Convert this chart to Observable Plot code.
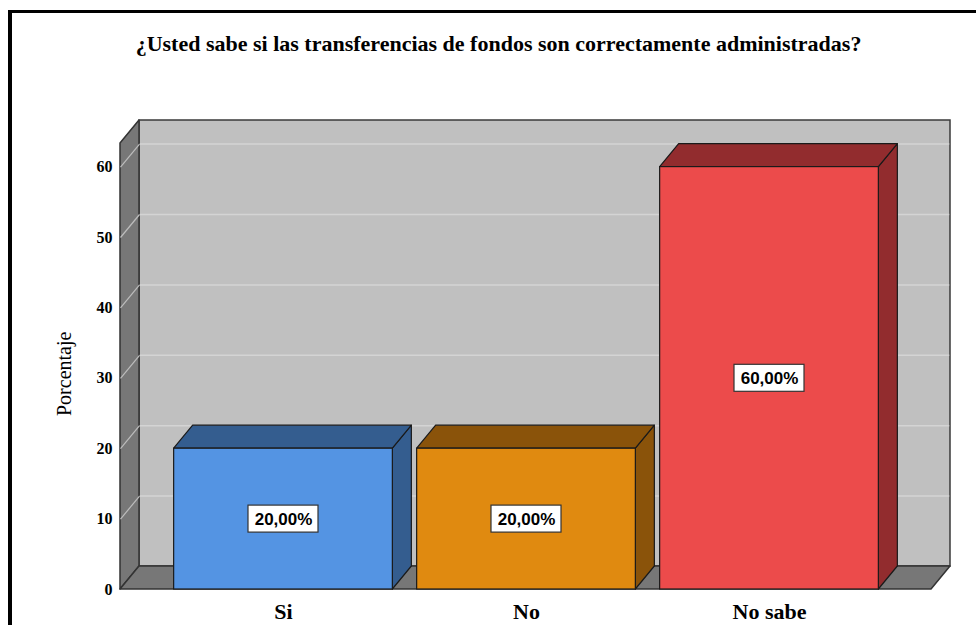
<!DOCTYPE html>
<html>
<head>
<meta charset="utf-8">
<script src="https://cdn.jsdelivr.net/npm/d3@7"></script>
<script src="https://cdn.jsdelivr.net/npm/@observablehq/plot@0.6"></script>
<style>
  html, body { margin: 0; padding: 0; background: #fff; overflow: hidden; }
  #wrap { position: relative; width: 976px; height: 625px; overflow: hidden; }
  #frame { position: absolute; left: 8px; top: 10px; width: 1200px; height: 1200px;
           border-top: 3px solid #000; border-left: 4px solid #000; box-sizing: border-box; }
  #chart { position: absolute; left: 0; top: 0; }
</style>
</head>
<body>
<div id="wrap"><div id="frame"></div><div id="chart"></div></div>
<script>
// ---- data ----
const title = "¿Usted sabe si las transferencias de fondos son correctamente administradas?";
const yLabel = "Porcentaje";
const categories = ["Si", "No", "No sabe"];
const percentages = [20, 20, 60];
const valueLabels = ["20,00%", "20,00%", "60,00%"];
const yTicks = [0, 10, 20, 30, 40, 50, 60];
const frontColors = ["#5494e3", "#e08a10", "#ec4b4b"];
const sideColors = ["#345d8f", "#8a530a", "#922c2e"];

// ---- layout (pixels) ----
const W = 976, H = 625;
const mL = 120, mR = 26, mT = 120, mB = 36;
const stepPx = 243;          // px per category
const firstCenterPx = 163;   // px from plot left to first category centre
const pxPerY = 7.04;         // px per percent
const depthX = 19, depthY = 23; // 3D depth offset (px)
const barHalf = 0.45;        // half bar width (category units)
const boxW = 70, boxH = 27;  // label box (px)

const X0 = -firstCenterPx / stepPx;
const X1 = X0 + (W - mL - mR) / stepPx;
const yMax = (H - mT - mB) / pxPerY;
const DXu = depthX / stepPx;
const DYu = depthY / pxPerY;
const yTop = yMax - DYu;

const idx = categories.map((_, i) => i);
const grid = yTicks.filter(t => t > 0);

const marks = [];
// back wall
marks.push(Plot.rect([0], {x1: () => X0 + DXu, x2: () => X1, y1: () => DYu, y2: () => yMax,
  fill: "#c0c0c0", stroke: "#3a3a3a", strokeWidth: 1.5}));
// gridlines on back wall
marks.push(Plot.ruleY(grid, {y: d => d + DYu, x1: () => X0 + DXu, x2: () => X1 - 0.003,
  stroke: "#d4d4d4", strokeWidth: 1.5}));
// left wall
marks.push(Plot.areaY([{x: X0, a: 0, b: yTop}, {x: X0 + DXu, a: DYu, b: yMax}],
  {x: "x", y1: "a", y2: "b", fill: "#777777", stroke: "#333", strokeWidth: 1.5}));
// floor
marks.push(Plot.areaX([{y: 0, a: X0, b: X1 - DXu}, {y: DYu, a: X0 + DXu, b: X1}],
  {y: "y", x1: "a", x2: "b", fill: "#777777", stroke: "#333", strokeWidth: 1.5}));
// gridline diagonals on left wall
marks.push(Plot.link(grid, {x1: () => X0, y1: d => d, x2: () => X0 + DXu, y2: d => d + DYu,
  stroke: "#bdbdbd", strokeWidth: 1.2}));

// bars
idx.forEach(i => {
  const v = percentages[i];
  const a = i - barHalf, b = i + barHalf;
  marks.push(Plot.areaY([{x: b, lo: 0, hi: v}, {x: b + DXu, lo: DYu, hi: v + DYu}],
    {x: "x", y1: "lo", y2: "hi", fill: sideColors[i], stroke: "#1a1a1a", strokeWidth: 1.2}));
  marks.push(Plot.areaX([{y: v, lo: a, hi: b}, {y: v + DYu, lo: a + DXu, hi: b + DXu}],
    {y: "y", x1: "lo", x2: "hi", fill: sideColors[i], stroke: "#1a1a1a", strokeWidth: 1.2}));
  marks.push(Plot.rect([i], {x1: d => d - barHalf, x2: d => d + barHalf, y1: () => 0, y2: () => v,
    fill: frontColors[i], stroke: "#1a1a1a", strokeWidth: 1.2}));
});

// value label boxes
const bw = boxW / 2 / stepPx, bh = boxH / 2 / pxPerY;
marks.push(Plot.rect(idx, {x1: i => i - bw, x2: i => i + bw,
  y1: i => percentages[i] / 2 - bh, y2: i => percentages[i] / 2 + bh,
  fill: "#ffffff", stroke: "#333", strokeWidth: 1.2}));
marks.push(Plot.text(idx, {x: i => i, y: i => percentages[i] / 2, text: i => valueLabels[i],
  fontFamily: "Liberation Sans", fontWeight: "bold", fontSize: 17, fill: "#000"}));

// axes
marks.push(Plot.axisY(yTicks, {tickSize: 0, tickPadding: 8, label: null,
  fontFamily: "Liberation Serif", fontWeight: "bold", fontSize: 16, fill: "#000"}));
marks.push(Plot.axisX(idx, {tickSize: 0, tickPadding: 14, label: null, tickFormat: i => categories[i],
  fontFamily: "Liberation Serif", fontWeight: "bold", fontSize: 22, fill: "#000"}));
// y label
marks.push(Plot.text([yLabel], {frameAnchor: "left", rotate: -90, dx: -56, dy: 61,
  fontFamily: "Liberation Serif", fontSize: 20, fill: "#000"}));
// title
marks.push(Plot.text([title], {frameAnchor: "top", dx: -37, dy: -70, lineAnchor: "bottom",
  fontFamily: "Liberation Serif", fontWeight: "bold", fontSize: 22, fill: "#000"}));

const chart = Plot.plot({
  width: W, height: H,
  marginLeft: mL, marginRight: mR, marginTop: mT, marginBottom: mB,
  x: {type: "linear", domain: [X0, X1]},
  y: {type: "linear", domain: [0, yMax]},
  style: {background: "transparent", color: "#000", overflow: "visible"},
  marks
});
document.getElementById("chart").appendChild(chart);
</script>
</body>
</html>
